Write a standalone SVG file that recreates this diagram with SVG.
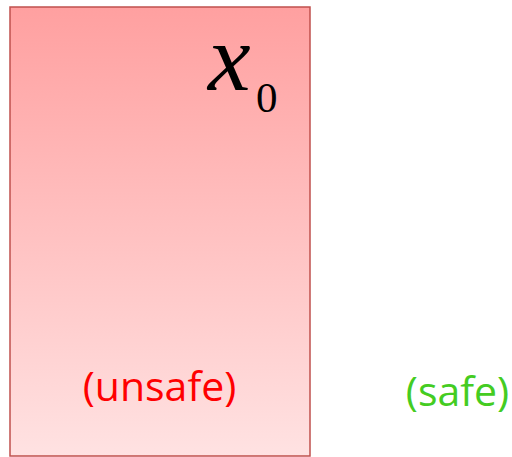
<svg xmlns="http://www.w3.org/2000/svg" width="512" height="457" viewBox="0 0 512 457">
<defs>
<linearGradient id="g" x1="0" y1="0" x2="0" y2="1">
<stop offset="0" stop-color="#ffa0a0"/>
<stop offset="1" stop-color="#ffe2e2"/>
</linearGradient>
<style>
.lbl{font-family:"Open Sans","Liberation Sans",sans-serif;font-size:41px;}
</style>
</defs>
<rect width="512" height="457" fill="#ffffff"/>
<g id="region">
<rect x="10" y="7" width="300" height="449" fill="url(#g)" stroke="#c0504d" stroke-width="1.5"/>
<text x="208" y="90" font-family="'Liberation Serif',serif" font-style="italic" font-size="96">x</text>
<text x="256" y="112" font-family="'Liberation Serif',serif" font-size="43">0</text>
<text class="lbl" x="159.5" y="401" text-anchor="middle" fill="#ff0000">(unsafe)</text>
</g>
<g id="safe">
<text class="lbl" x="457.5" y="406" text-anchor="middle" fill="#44cc22">(safe)</text>
</g>
</svg>
